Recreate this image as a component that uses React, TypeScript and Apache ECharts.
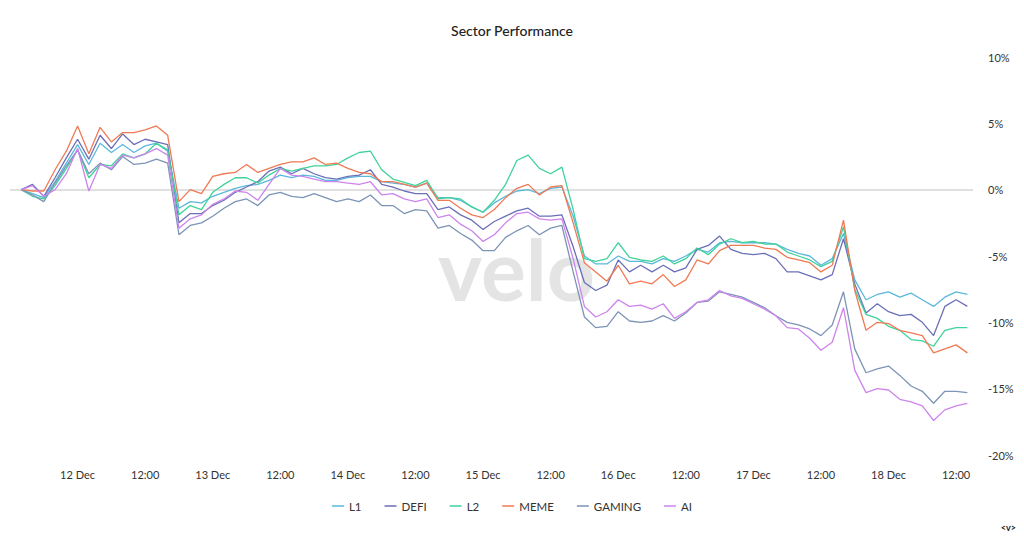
import React, { useEffect, useRef } from "react";
import * as echarts from "echarts";

const TITLE = "Sector Performance";
const SERIES_NAMES = ["L1", "DEFI", "L2", "MEME", "GAMING", "AI"];
const COLORS = ["#5bb8dc", "#6b6fb8", "#3fd39b", "#f07a55", "#7d94b6", "#cd84ec"];

// two-hourly samples, first at 11 Dec 14:00
const START = new Date(2024, 11, 11, 14, 0, 0).getTime();
const STEP_MS = 2 * 3600 * 1000;

const L1 = [0, -0.3, -0.6, 0.6, 2.0, 3.4, 1.9, 3.5, 2.8, 3.4, 2.8, 3.3, 3.5, 2.9, -1.4, -0.9, -1.0, -0.5, -0.2, 0.1, 0.3, 0.4, 0.7, 1.1, 0.9, 1.1, 1.0, 0.7, 0.7, 0.9, 1.0, 1.0, 0.6, 0.5, 0.4, 0.2, 0.5, -0.6, -0.6, -0.8, -1.3, -1.7, -1.0, -0.5, -0.1, 0.0, -0.3, 0.1, 0.2, -2.0, -5.0, -5.6, -5.6, -5.0, -5.4, -5.4, -5.6, -5.2, -5.4, -5.0, -4.5, -4.7, -4.0, -3.9, -4.0, -4.0, -4.0, -4.1, -4.5, -4.8, -5.0, -5.7, -5.2, -3.3, -6.8, -8.3, -7.9, -7.7, -8.1, -7.8, -8.3, -8.8, -8.1, -7.7, -7.9];
const DEFI = [0, 0.4, -0.5, 0.9, 2.4, 3.8, 2.3, 4.1, 3.1, 4.2, 3.4, 3.8, 3.6, 3.4, -2.5, -1.8, -1.8, -1.2, -0.8, -0.2, 0.2, 0.6, 1.4, 1.7, 1.2, 1.6, 1.2, 0.9, 0.8, 1.0, 1.1, 1.5, 0.4, 0.2, -0.1, -0.3, -0.3, -1.5, -1.3, -1.9, -2.3, -3.0, -2.4, -2.0, -1.6, -1.4, -2.0, -2.0, -1.9, -4.3, -7.0, -7.6, -7.2, -5.3, -6.2, -5.7, -6.2, -5.7, -6.2, -5.9, -4.5, -4.2, -3.5, -4.5, -4.8, -4.9, -4.8, -5.2, -6.2, -6.2, -6.5, -6.8, -6.4, -3.7, -7.1, -9.3, -8.6, -9.2, -9.5, -9.4, -10.0, -11.0, -8.8, -8.3, -8.8];
const L2 = [0, -0.5, -0.7, 0.3, 1.6, 3.0, 0.9, 1.9, 1.8, 2.7, 2.4, 2.7, 3.5, 3.0, -1.9, -1.2, -1.5, -0.2, 0.4, 0.9, 0.9, 0.5, 1.1, 1.6, 1.4, 1.6, 1.8, 1.8, 1.9, 2.4, 2.8, 2.9, 1.5, 0.8, 0.55, 0.3, 0.7, -0.7, -0.6, -0.7, -1.3, -1.7, -0.8, 0.4, 2.2, 2.6, 1.6, 1.2, 1.7, -1.5, -5.2, -5.4, -5.2, -4.0, -5.1, -5.3, -5.4, -5.0, -5.6, -5.2, -4.4, -4.9, -4.1, -3.7, -4.0, -3.9, -4.1, -4.1, -4.7, -5.0, -5.3, -5.8, -5.4, -2.8, -7.5, -9.4, -9.7, -10.3, -10.6, -11.3, -11.4, -11.8, -10.6, -10.4, -10.4];
const MEME = [0, -0.1, -0.1, 1.5, 2.9, 4.8, 2.7, 4.7, 3.6, 4.3, 4.3, 4.5, 4.8, 4.1, -0.9, 0.0, -0.3, 1.0, 1.2, 1.3, 1.9, 1.3, 1.6, 1.9, 2.1, 2.1, 2.4, 1.9, 2.0, 1.6, 1.3, 1.2, 0.6, 0.6, 0.4, 0.2, 0.5, -0.8, -0.8, -1.4, -1.9, -2.1, -1.5, -0.6, 0.1, 0.4, -0.4, 0.2, 0.3, -2.5, -5.5, -6.2, -6.9, -5.7, -7.1, -6.9, -7.1, -6.4, -7.3, -6.8, -5.3, -5.6, -4.6, -4.2, -4.2, -4.2, -4.4, -4.5, -5.1, -5.3, -5.5, -6.2, -5.7, -2.3, -7.6, -10.6, -10.0, -10.1, -10.6, -10.8, -11.0, -12.3, -12.0, -11.7, -12.3];
const GAMING = [0, -0.4, -0.9, 0.5, 1.8, 3.0, 1.2, 2.0, 1.5, 2.5, 1.9, 2.0, 2.3, 2.0, -3.4, -2.7, -2.5, -2.0, -1.4, -0.9, -0.7, -1.2, -0.4, -0.2, -0.5, -0.6, -0.3, -0.6, -0.9, -0.7, -0.9, -0.4, -1.2, -1.2, -1.8, -1.5, -1.6, -2.9, -2.7, -3.3, -3.8, -4.6, -4.6, -3.6, -3.1, -2.7, -3.4, -2.9, -2.7, -6.2, -9.6, -10.4, -10.3, -9.2, -9.9, -10.0, -9.9, -9.5, -9.9, -9.3, -8.5, -8.4, -7.7, -7.9, -8.1, -8.5, -8.9, -9.5, -10.0, -10.2, -10.5, -11.0, -10.2, -7.7, -12.0, -13.8, -13.5, -13.3, -14.0, -14.8, -15.2, -16.1, -15.2, -15.2, -15.3];
const AI = [0, 0.3, -0.5, 0.0, 1.2, 3.1, -0.1, 1.9, 1.6, 2.6, 2.4, 2.7, 3.1, 2.6, -2.9, -2.2, -1.9, -1.1, -0.7, -0.1, -0.2, -0.8, 0.4, 1.6, 1.1, 1.0, 0.8, 0.6, 0.6, 0.5, 0.4, 0.6, -0.4, -0.3, -0.7, -0.9, -0.7, -2.1, -1.9, -2.6, -3.1, -3.9, -3.4, -2.5, -1.8, -1.7, -2.2, -2.3, -2.2, -5.2, -8.8, -9.6, -9.2, -8.3, -8.8, -8.7, -9.0, -8.6, -9.7, -9.2, -8.5, -8.3, -7.6, -8.0, -8.2, -8.6, -9.0, -9.5, -10.4, -10.5, -11.2, -12.1, -11.5, -8.9, -13.6, -15.3, -15.0, -15.1, -15.8, -16.0, -16.3, -17.4, -16.6, -16.3, -16.1];

const VALUES = [L1, DEFI, L2, MEME, GAMING, AI];

const X_MIN = new Date(2024, 11, 11, 12, 0, 0).getTime();
const X_MAX = new Date(2024, 11, 18, 15, 0, 0).getTime();
const Y_MIN = -20;
const Y_MAX = 10;
const Y_INTERVAL = 5;

const FONT = "Lato, 'Noto Sans', sans-serif";

export default function App() {
  const ref = useRef<HTMLDivElement>(null);

  useEffect(() => {
    if (!ref.current) return;
    const chart = echarts.init(ref.current, undefined, { renderer: "svg" });

    const series = SERIES_NAMES.map((name, k) => ({
      name,
      type: "line",
      data: VALUES[k].map((v, i) => [START + i * STEP_MS, v]),
      showSymbol: false,
      symbol: "none",
      lineStyle: { width: 1.3, color: COLORS[k] },
      itemStyle: { color: COLORS[k] },
      ...(k === 0
        ? {
            markLine: {
              silent: true,
              symbol: ["none", "none"],
              label: { show: false },
              lineStyle: { color: "#d6d6d6", width: 1.5, type: "solid" },
              data: [{ yAxis: 0 }],
              z: 1,
            },
          }
        : {}),
    }));

    chart.setOption({
      animation: false,
      backgroundColor: "#ffffff",
      textStyle: { fontFamily: FONT },
      title: {
        text: TITLE,
        left: "center",
        top: 18,
        textStyle: { fontSize: 14, fontWeight: 500, color: "#222", fontFamily: FONT },
      },
      legend: {
        data: SERIES_NAMES.map((n) => ({ name: n, icon: "rect" })),
        bottom: 19,
        left: "center",
        itemWidth: 12,
        itemHeight: 1.5,
        itemGap: 23,
        textStyle: { fontSize: 11.5, color: "#333", fontFamily: FONT },
      },
      grid: { left: 10, right: 51, top: 57, bottom: 81, containLabel: false },
      xAxis: {
        type: "time",
        min: X_MIN,
        max: X_MAX,
        minInterval: 12 * 3600 * 1000,
        maxInterval: 12 * 3600 * 1000,
        axisLine: { show: false },
        axisTick: { show: false },
        splitLine: { show: false },
        axisLabel: {
          showMinLabel: false,
          showMaxLabel: false,
          hideOverlap: false,
          margin: 14,
          fontSize: 11,
          color: "#333",
          fontFamily: FONT,
          formatter: (val: number) => {
            if (val <= X_MIN || val >= X_MAX) return "";
            const d = new Date(val);
            if (d.getMinutes() !== 0) return "";
            if (d.getHours() === 0) return `${d.getDate()} Dec`;
            if (d.getHours() === 12) return "12:00";
            return "";
          },
        },
      },
      yAxis: {
        type: "value",
        position: "right",
        min: Y_MIN,
        max: Y_MAX,
        interval: Y_INTERVAL,
        axisLine: { show: false },
        axisTick: { show: false },
        splitLine: { show: false },
        axisLabel: {
          margin: 15,
          fontSize: 11,
          color: "#333",
          fontFamily: FONT,
          formatter: "{value}%",
        },
      },
      graphic: [
        {
          type: "text",
          left: 438,
          top: 226,
          z: -10,
          silent: true,
          style: {
            text: "velo",
            fontSize: 84,
            fontWeight: "bold",
            fontFamily: FONT,
            fill: "#e4e4e4",
          },
        },
        {
          type: "text",
          right: 8,
          bottom: 4,
          silent: true,
          style: {
            text: "<v>",
            fontSize: 9,
            fontWeight: "bold",
            fontFamily: FONT,
            fill: "#222",
          },
        },
      ],
      series,
    });

    return () => chart.dispose();
  }, []);

  return (
    <div
      ref={ref}
      style={{ position: "fixed", left: 0, top: 0, width: 1024, height: 536, background: "#fff" }}
    />
  );
}
